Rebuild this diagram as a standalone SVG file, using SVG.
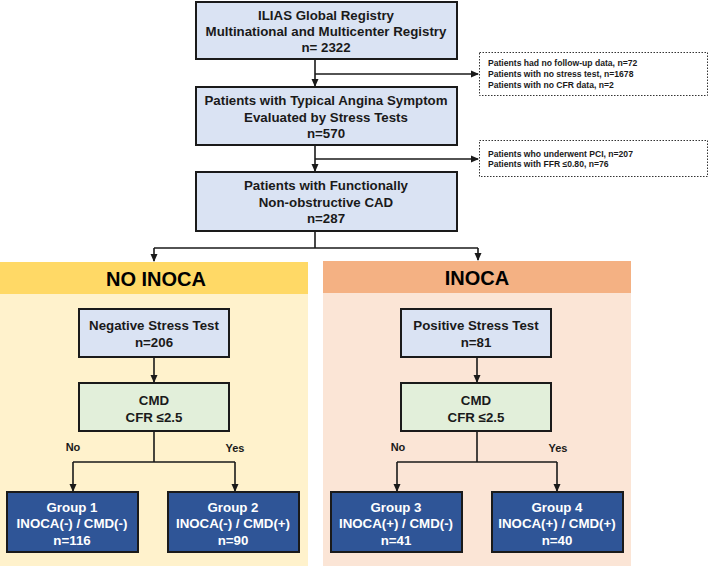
<svg xmlns="http://www.w3.org/2000/svg" width="709" height="566" viewBox="0 0 709 566">
<style>
text{font-family:"Liberation Sans",Arial,sans-serif;font-weight:bold;text-anchor:middle}
.b{fill:#dae3f3;stroke:#1a1a1a;stroke-width:2}
.g{fill:#e2efda;stroke:#1a1a1a;stroke-width:2}
.d{fill:#2f5597;stroke:#1a1a1a;stroke-width:2}
.t{font-size:13.3px;fill:#1a1a1a}
.w{font-size:13.3px;fill:#ffffff}
.s{font-size:8.6px;fill:#1a1a1a;text-anchor:start}
.h{font-size:20px;fill:#000}
.l{font-size:11px;fill:#1a1a1a}
.dash{fill:#fff;stroke:#333;stroke-width:1;stroke-dasharray:1.5 1.5}
.c{fill:none;stroke:#1a1a1a;stroke-width:1.6}
</style>
<defs>
<marker id="ar" markerWidth="8" markerHeight="8" refX="7" refY="4" orient="auto" markerUnits="userSpaceOnUse">
<path d="M0,0.5 L8,4 L0,7.5 z" fill="#1a1a1a"/>
</marker>
</defs>
<g id="panels">
<rect x="0" y="262" width="308" height="304" fill="#fff2cc"/>
<rect x="0" y="262" width="308" height="32" fill="#ffd966"/>
<rect x="323" y="261" width="308" height="305" fill="#fbe5d6"/>
<rect x="323" y="261" width="308" height="32" fill="#f4b183"/>
<text class="h" x="156" y="286">NO INOCA</text>
<text class="h" x="477" y="285">INOCA</text>
</g>
<g id="connectors">
<path class="c" d="M315,59 V86" marker-end="url(#ar)"/>
<path class="c" d="M315,74 H478" marker-end="url(#ar)"/>
<path class="c" d="M315,145 V171" marker-end="url(#ar)"/>
<path class="c" d="M315,159 H478" marker-end="url(#ar)"/>
<path class="c" d="M315,231 V248"/>
<path class="c" d="M154,248 H478"/>
<path class="c" d="M154,248 V261" marker-end="url(#ar)"/>
<path class="c" d="M478,248 V260" marker-end="url(#ar)"/>
<path class="c" d="M154,357 V382" marker-end="url(#ar)"/>
<path class="c" d="M154,431 V462 M73,462 H235"/>
<path class="c" d="M73,462 V491" marker-end="url(#ar)"/>
<path class="c" d="M235,462 V491" marker-end="url(#ar)"/>
<path class="c" d="M477,357 V382" marker-end="url(#ar)"/>
<path class="c" d="M477,431 V462 M397,462 H557"/>
<path class="c" d="M397,462 V491" marker-end="url(#ar)"/>
<path class="c" d="M557,462 V491" marker-end="url(#ar)"/>
<text class="l" x="73" y="451">No</text>
<text class="l" x="235" y="452">Yes</text>
<text class="l" x="398" y="451">No</text>
<text class="l" x="558" y="452">Yes</text>
</g>
<g id="registry">
<rect class="b" x="196" y="2" width="261" height="57"/>
<text class="t" x="326" y="20">ILIAS Global Registry</text>
<text class="t" x="326" y="36">Multinational and Multicenter Registry</text>
<text class="t" x="326" y="52">n= 2322</text>
</g>
<g id="excl1">
<rect class="dash" x="479.5" y="52.5" width="228" height="43"/>
<text class="s" x="488" y="66">Patients had no follow-up data, n=72</text>
<text class="s" x="488" y="77">Patients with no stress test, n=1678</text>
<text class="s" x="488" y="88">Patients with no CFR data, n=2</text>
</g>
<g id="angina">
<rect class="b" x="196" y="87" width="261" height="58"/>
<text class="t" x="326" y="105">Patients with Typical Angina Symptom</text>
<text class="t" x="326" y="122">Evaluated by Stress Tests</text>
<text class="t" x="326" y="138">n=570</text>
</g>
<g id="excl2">
<rect class="dash" x="479.5" y="140.5" width="228" height="36"/>
<text class="s" x="488" y="157">Patients who underwent PCI,  n=207</text>
<text class="s" x="488" y="167">Patients with FFR ≤0.80, n=76</text>
</g>
<g id="nonobs">
<rect class="b" x="196" y="172" width="261" height="59"/>
<text class="t" x="326" y="190">Patients with Functionally</text>
<text class="t" x="326" y="207">Non-obstructive CAD</text>
<text class="t" x="326" y="223">n=287</text>
</g>
<g id="negative">
<rect class="b" x="79" y="309" width="150" height="48"/>
<text class="t" x="154" y="330">Negative Stress Test</text>
<text class="t" x="154" y="347">n=206</text>
</g>
<g id="cmd1">
<rect class="g" x="79" y="383" width="150" height="48"/>
<text class="t" x="154" y="405">CMD</text>
<text class="t" x="154" y="422">CFR ≤2.5</text>
</g>
<g id="positive">
<rect class="b" x="401" y="309" width="150" height="48"/>
<text class="t" x="476" y="330">Positive Stress Test</text>
<text class="t" x="476" y="347">n=81</text>
</g>
<g id="cmd2">
<rect class="g" x="401" y="383" width="150" height="48"/>
<text class="t" x="476" y="405">CMD</text>
<text class="t" x="476" y="422">CFR ≤2.5</text>
</g>
<g id="group1">
<rect class="d" x="7" y="492" width="131" height="60"/>
<text class="w" x="72" y="512">Group 1</text>
<text class="w" x="72" y="528">INOCA(-) / CMD(-)</text>
<text class="w" x="72" y="545">n=116</text>
</g>
<g id="group2">
<rect class="d" x="168" y="492" width="131" height="60"/>
<text class="w" x="233" y="512">Group 2</text>
<text class="w" x="233" y="528">INOCA(-) / CMD(+)</text>
<text class="w" x="233" y="545">n=90</text>
</g>
<g id="group3">
<rect class="d" x="331" y="492" width="131" height="60"/>
<text class="w" x="396" y="512">Group 3</text>
<text class="w" x="396" y="528">INOCA(+) / CMD(-)</text>
<text class="w" x="396" y="545">n=41</text>
</g>
<g id="group4">
<rect class="d" x="492" y="492" width="131" height="60"/>
<text class="w" x="557" y="512">Group 4</text>
<text class="w" x="557" y="528">INOCA(+) / CMD(+)</text>
<text class="w" x="557" y="545">n=40</text>
</g>
</svg>
